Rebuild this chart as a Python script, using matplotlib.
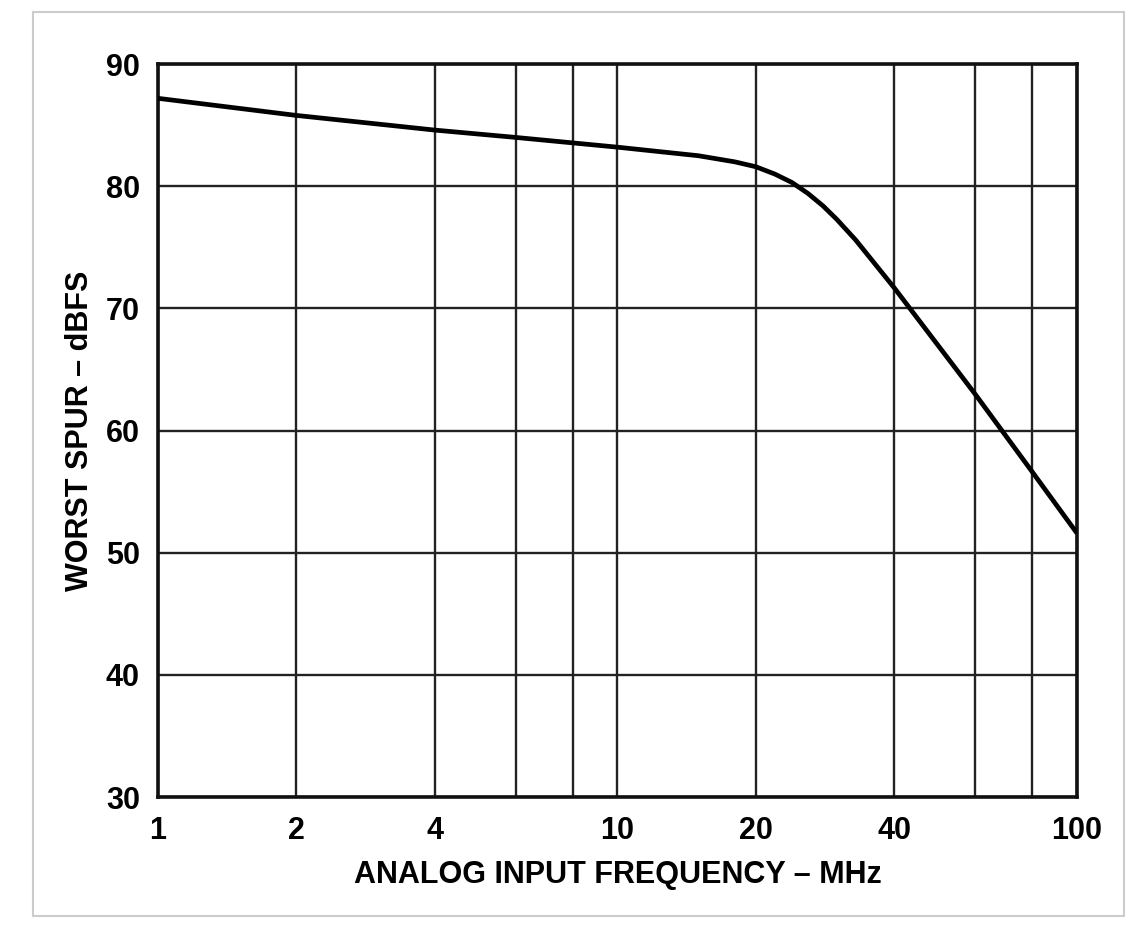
import matplotlib.pyplot as plt
import matplotlib.ticker as mticker
from matplotlib.patches import Rectangle

plt.rcParams['font.family'] = ['Liberation Sans', 'DejaVu Sans']
plt.rcParams['font.weight'] = 'bold'

# valores
freq = [1, 2, 3, 4, 6, 10, 15, 18, 20, 22, 24, 26, 28, 30, 33, 40, 60, 80, 100]
spur = [87.2, 85.8, 85.1, 84.6, 84.0, 83.2, 82.5, 82.0, 81.6, 81.0, 80.3, 79.4, 78.4, 77.3, 75.6, 71.7, 63.0, 56.6, 51.6]

x_ticks = [1, 2, 4, 10, 20, 40, 100]
x_grid = [1, 2, 4, 6, 8, 10, 20, 40, 60, 80, 100]
y_ticks = [30, 40, 50, 60, 70, 80, 90]

fig = plt.figure(figsize=(11.48, 9.36), dpi=100)
fig.patches.append(Rectangle((0.0287, 0.0214), 0.950, 0.966, transform=fig.transFigure,
                             fill=False, edgecolor='#cccccc', linewidth=1.5))
ax = fig.add_axes([0.1376, 0.1485, 0.8005, 0.783])

ax.set_xscale('log')
ax.set_xlim(1, 100)
ax.set_ylim(30, 90)

for xv in x_grid:
    ax.axvline(xv, color='#222222', linewidth=1.7, zorder=1)
for yv in y_ticks:
    ax.axhline(yv, color='#222222', linewidth=1.7, zorder=1)

ax.plot(freq, spur, color='black', linewidth=3.4, zorder=3, solid_capstyle='butt',
        solid_joinstyle='round')

ax.xaxis.set_major_locator(mticker.FixedLocator(x_ticks))
ax.xaxis.set_minor_locator(mticker.NullLocator())
ax.xaxis.set_major_formatter(mticker.FixedFormatter([str(v) for v in x_ticks]))
ax.set_yticks(y_ticks)
ax.tick_params(length=0, labelsize=22)
ax.tick_params(axis='x', pad=14)
ax.tick_params(axis='y', pad=13)
for lab in ax.get_xticklabels() + ax.get_yticklabels():
    lab.set_fontweight('bold')

for s in ax.spines.values():
    s.set_linewidth(2.6)
    s.set_color('#111111')

ax.set_xlabel('ANALOG INPUT FREQUENCY – MHz', fontsize=22, fontweight='bold', labelpad=10)
ax.set_ylabel('WORST SPUR – dBFS', fontsize=22, fontweight='bold', labelpad=8)

plt.savefig('out.png', dpi=100)
